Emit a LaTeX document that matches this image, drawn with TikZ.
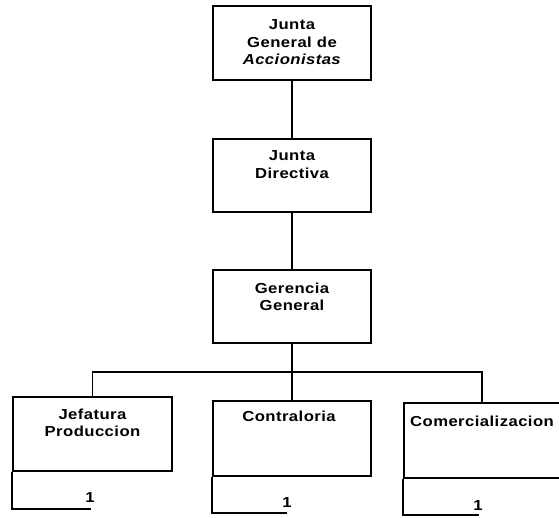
\documentclass[tikz,border=0pt]{standalone}
\usepackage{fontspec}
\setmainfont{Liberation Sans}[FakeStretch=1.15, LetterSpace=3]
\begin{document}
\begin{tikzpicture}[x=1pt, y=-1pt, line width=1.6pt,
  unit/.style={draw, minimum width=158pt, minimum height=74pt, inner sep=0pt},
  caption/.style={font=\fontsize{14.5}{17.5}\selectfont\bfseries, align=center, inner sep=0pt, anchor=north},
  tally/.style={font=\fontsize{14.5}{17.5}\selectfont\bfseries, inner sep=0pt, anchor=base}]
\useasboundingbox (0,0) rectangle (559,518);
\clip (0,0) rectangle (559,518);

% central column
\node[unit] (jga) at (292,43) {};
\node[caption] (jgat) at (292,19) {Junta\\General de\\\textit{Accionistas}};
\node[unit, minimum height=73pt] (jd) at (292,175.5) {};
\node[caption] (jdt) at (292,150) {Junta\\Directiva};
\node[unit, minimum height=73pt] (gg) at (292,306.5) {};
\node[caption] (ggt) at (292,282) {Gerencia\\General};

% lower level
\node[unit, minimum width=159pt] (jef) at (92.5,434) {};
\node[caption] (jeft) at (92.5,408) {Jefatura\\Produccion};
\node[unit, minimum height=75pt] (cont) at (292,438.5) {};
\node[caption] (contt) at (289,410) {Contraloria};
\node[unit, minimum width=156pt, minimum height=75pt] (com) at (482,440.5) {};
\node[caption] (comt) at (482,415) {Comercializacion};

% open lower tabs with their counts
\draw (jef.south west) -- ++(0,37) coordinate (jefe) -- ++(79,0) coordinate (jefr);
\draw (cont.south west) -- ++(0,36) coordinate (conte) -- ++(75,0) coordinate (contr);
\draw (com.south west) -- ++(0,36) coordinate (come) -- ++(76,0) coordinate (comr);
\node[tally] (jefn) at (90,502) {1};
\node[tally] (contn) at (287,507) {1};
\node[tally] (comn) at (478,510) {1};

% connectors
\coordinate (busy) at (0,372);
\coordinate (hub) at (gg.south |- busy);
\draw (jga.south) -- (jd.north);
\draw (jd.south) -- (gg.north);
\draw (gg.south) -- (hub);
\draw (jef.north) |- (hub) -| (com.north);
\draw (hub) -- (cont.north);
\end{tikzpicture}
\end{document}
